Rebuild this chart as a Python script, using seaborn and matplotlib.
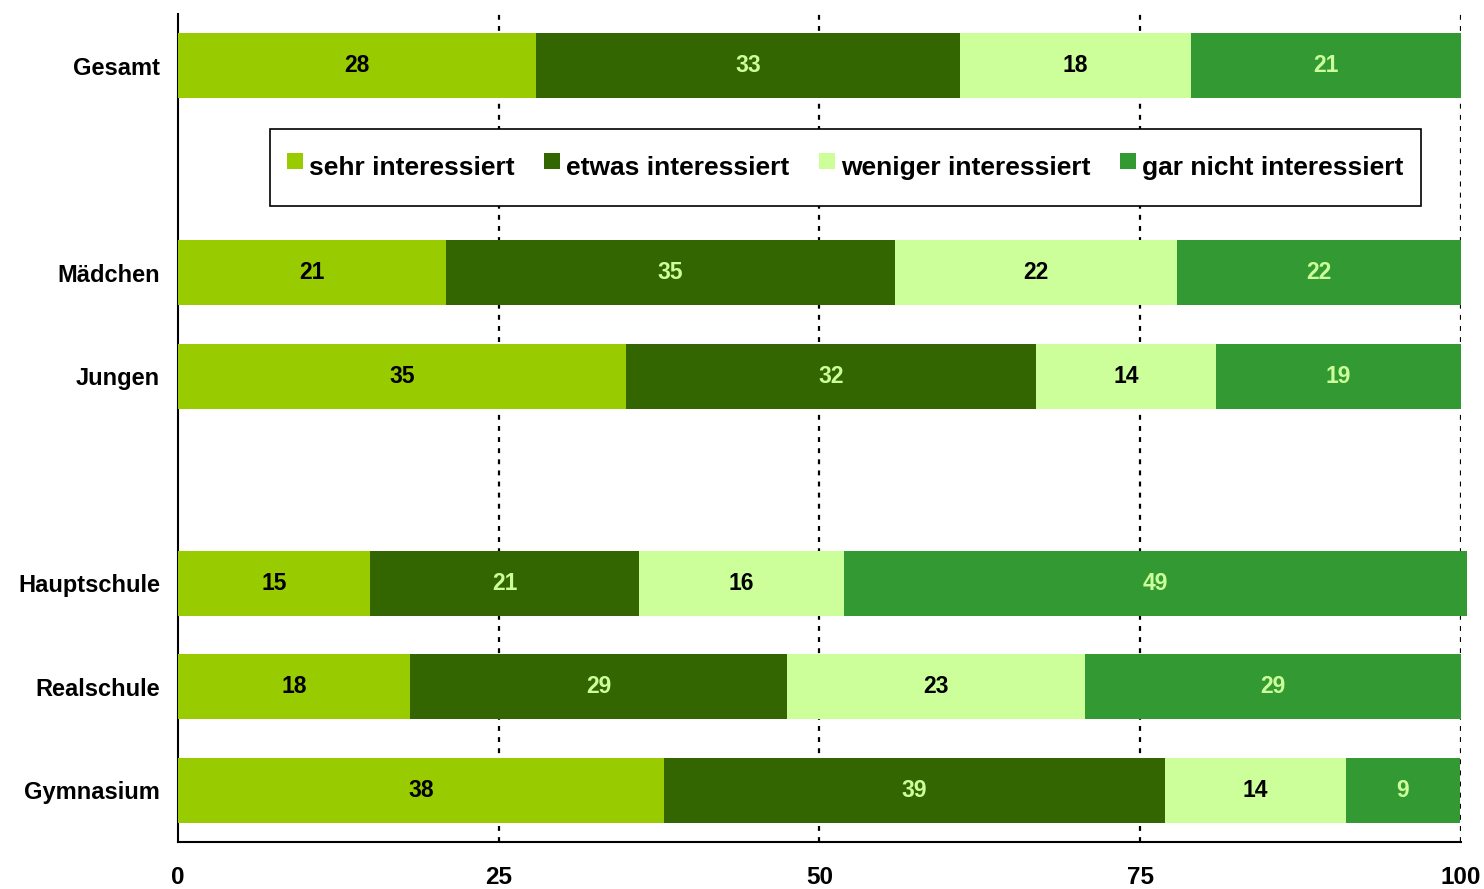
import numpy as np
import pandas as pd
import matplotlib
matplotlib.use("Agg")
import matplotlib.pyplot as plt
import seaborn as sns
from matplotlib.lines import Line2D

# data (percent)
groups = ["Gesamt", "Mädchen", "Jungen", "Hauptschule", "Realschule", "Gymnasium"]
slots = [0, 2, 3, 5, 6, 7]   # rows 1 and 4 stay empty
sehr = [27.9, 20.9, 34.9, 15.0, 18.1, 37.9]
etwas = [33.05, 35.0, 32.0, 20.9, 29.4, 39.0]
weniger = [18.0, 22.0, 14.0, 16.0, 23.2, 14.1]
garnicht = [21.05, 22.1, 19.1, 48.6, 29.3, 8.9]

series = ["sehr interessiert", "etwas interessiert", "weniger interessiert", "gar nicht interessiert"]
colors = ["#99CC00", "#336600", "#CCFF99", "#339933"]
label_colors = ["black", "#CCFF99", "black", "#CCFF99"]

sns.set_style("white")
plt.rcParams["font.family"] = ["Liberation Sans", "DejaVu Sans"]
plt.rcParams["font.weight"] = "bold"
plt.rcParams["text.color"] = "black"
plt.rcParams["xtick.color"] = "black"
plt.rcParams["ytick.color"] = "black"
narrow = ["Liberation Sans Narrow", "Liberation Sans", "DejaVu Sans"]

df = pd.DataFrame({"slot": slots, "group": groups, "s1": sehr, "s2": etwas, "s3": weniger, "s4": garnicht})
vals = df[["s1", "s2", "s3", "s4"]].to_numpy()
cum = np.cumsum(vals, axis=1)

fig = plt.figure(figsize=(14.84, 8.89), dpi=100)
ax = fig.add_axes([0.1199, 0.0529, 0.8646, 0.9314])

# stacked bars: draw cumulative totals from the outside in
for k in range(3, -1, -1):
    sns.barplot(x=cum[:, k], y=df["slot"], orient="h", native_scale=True,
                color=colors[k], saturation=1, width=0.63, linewidth=0, ax=ax, zorder=3)
for p in ax.patches:
    p.set_clip_on(False)

for i in range(len(df)):
    for k in range(4):
        left = cum[i, k] - vals[i, k]
        ax.text(left + vals[i, k] / 2, df["slot"][i], f"{vals[i, k]:.0f}", ha="center", va="center",
                fontsize=16.5, fontweight="bold", family=narrow, color=label_colors[k], zorder=5)

ax.set_xlim(0, 100)
ax.set_ylim(7.5, -0.5)
ax.set_xticks([0, 25, 50, 75, 100])
ax.set_xticklabels(["0", "25", "50", "75", "100"], fontsize=17.5, fontweight="bold")
ax.set_yticks(slots)
ax.set_yticklabels(groups, fontsize=17, fontweight="bold")
ax.set_yticks(np.arange(-0.5, 8.0, 1.0), minor=True)
ax.tick_params(axis="y", which="major", length=0, pad=13)
ax.tick_params(axis="y", which="minor", length=4.5, width=1.2, direction="out", color="black")
ax.tick_params(axis="x", length=4, width=1.2, direction="out", color="black", pad=13)
ax.set_xlabel("")
ax.set_ylabel("")

for x in [25, 50, 75, 100]:
    ax.axvline(x, color="black", linestyle=(0, (2.2, 2.8)), linewidth=1.6, zorder=1)

sns.despine(ax=ax, top=True, right=True)
for side in ["left", "bottom"]:
    ax.spines[side].set_color("black")
    ax.spines[side].set_linewidth(1.5)

handles = [Line2D([], [], linestyle="none", marker="s", markersize=11, markerfacecolor=c,
                  markeredgewidth=0) for c in colors]
leg = ax.legend(handles, series, loc="center", bbox_to_anchor=(0.52, 0.815), ncol=4,
                frameon=True, fancybox=False, framealpha=1, edgecolor="black",
                prop={"size": 19, "weight": "bold", "family": narrow}, handlelength=0.6,
                handleheight=2.1, handletextpad=0.25, columnspacing=1.1, borderpad=0.65)
leg.get_frame().set_linewidth(1.2)

fig.savefig("out.png", dpi=100)
